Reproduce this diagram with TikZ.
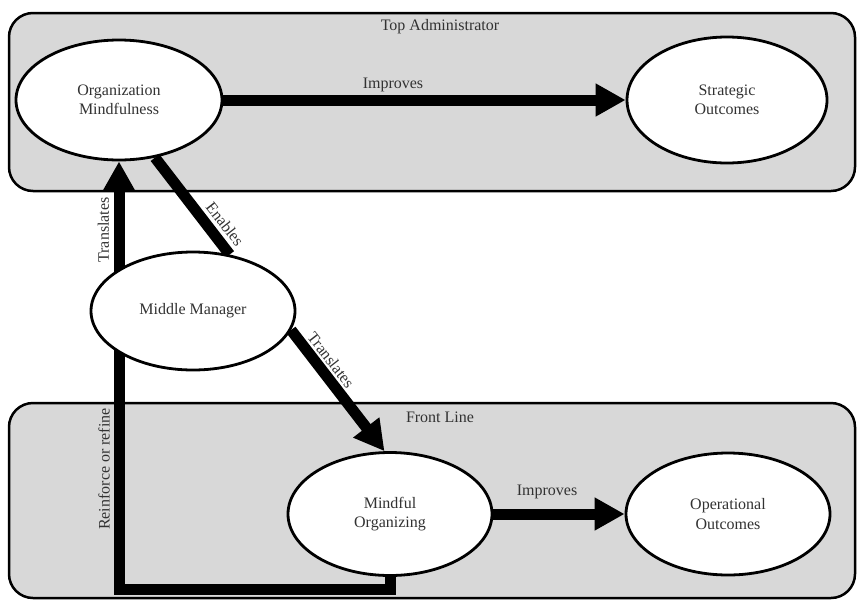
\documentclass[tikz,border=0pt]{standalone}
\usepackage{fontspec}
\setmainfont{Liberation Serif}
\usetikzlibrary{arrows.meta,shapes.geometric}
\pgfdeclarelayer{panel}
\pgfdeclarelayer{wires}
\pgfsetlayers{panel,wires,main}
\definecolor{panelgray}{RGB}{216,216,216}
\definecolor{inkgray}{RGB}{50,50,50}
\tikzset{
  panel/.style={draw=black,line width=2.5pt,fill=panelgray,rounded corners=24pt,inner sep=0pt},
  actor/.style={ellipse,draw=black,line width=2.8pt,fill=white,align=center,inner sep=0pt,
    text=inkgray,font=\fontsize{16}{19.5}\selectfont},
  flow/.style={line width=11pt,-{Triangle[length=30pt,width=31pt]}},
  link/.style={line width=11pt},
  tag/.style={text=inkgray,font=\fontsize{16}{19}\selectfont,inner sep=0pt}
}
\begin{document}
\begin{tikzpicture}[x=1pt,y=-1pt]
\useasboundingbox (0,0) rectangle (861,603);

% organisational levels
\begin{pgfonlayer}{panel}
  \node[panel,minimum width=846pt,minimum height=178pt] (toplevel) at (432,102) {};
  \node[panel,minimum width=846pt,minimum height=195pt] (frontlevel) at (432,500.5) {};
\end{pgfonlayer}
\node[tag] (toplabel) at (440,27) {Top Administrator};
\node[tag] (frontlabel) at (440,417) {Front Line};

% actors and outcomes
\node[actor,minimum width=206pt,minimum height=120pt] (om) at (119,100) {Organization\\Mindfulness};
\node[actor,minimum width=200pt,minimum height=126pt] (so) at (727,100) {Strategic\\Outcomes};
\node[actor,minimum width=204pt,minimum height=118pt] (mm) at (193,311) {Middle Manager};
\node[actor,minimum width=204pt,minimum height=123pt] (mo) at (390,514) {Mindful\\Organizing};
\node[actor,minimum width=204pt,minimum height=122pt] (oo) at (728,514) {Operational\\Outcomes};

% connectors
\coordinate (rb) at (0,589);
\begin{pgfonlayer}{wires}
  \draw[flow] (om.east) -- (so.west);
  \draw[flow] (mo.east) -- (oo.west);
  \draw[link] (om.-58) -- (mm.57);
  \draw[flow] (mm.-11) -- (mo.95);
  \draw[flow] (mm.center -| om.south) -- (om.south);
  \draw[link,line join=miter] (mo.south) -- (mo.south |- rb) -- (om.south |- rb) -- (om.south |- mm.center);
\end{pgfonlayer}

% connector labels
\node[tag] (improvestop) at (393,85) {Improves};
\node[tag] (improvesbottom) at (547,492) {Improves};
\node[tag,rotate=90] (translatesup) at (103.5,230) {Translates};
\node[tag,rotate=90] (reinforce) at (104,469) {Reinforce or refine};
\node[tag,rotate=-52] (enables) at (225,224) {Enables};
\node[tag,rotate=-52] (translatesdown) at (331,360) {Translates};
\end{tikzpicture}
\end{document}
